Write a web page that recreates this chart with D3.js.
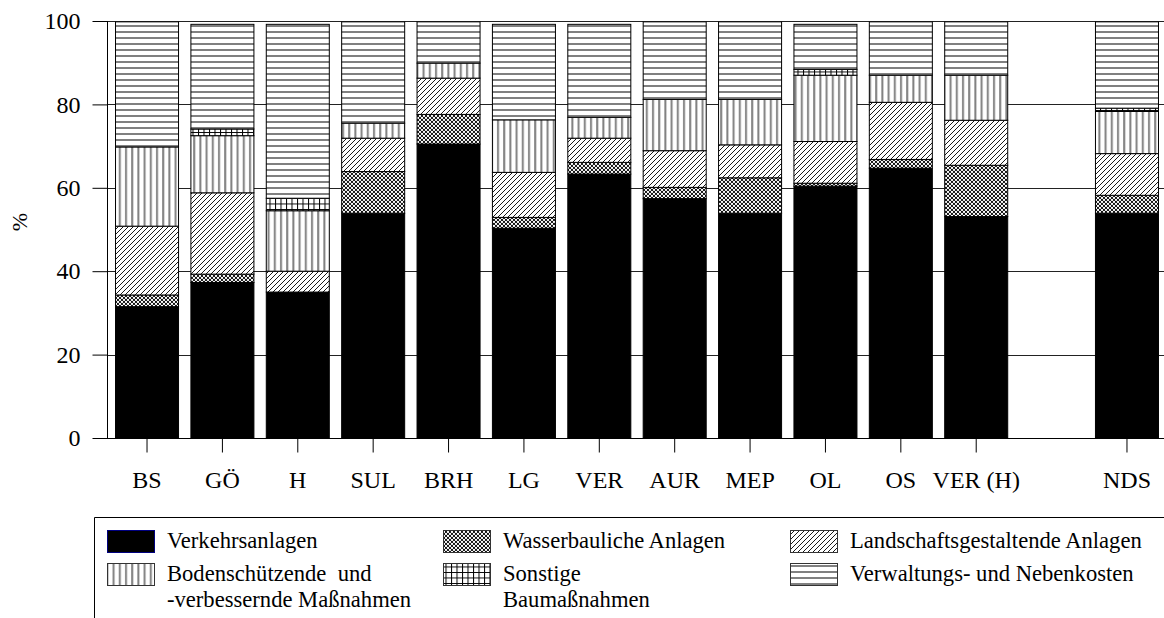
<!DOCTYPE html>
<html>
<head>
<meta charset="utf-8">
<script src="https://cdn.jsdelivr.net/npm/d3@7"></script>
<style>
  html, body { margin: 0; padding: 0; background: #fff; }
  svg { display: block; }
  text { font-family: "Liberation Serif", "Times New Roman", serif; fill: #000; }
</style>
</head>
<body>
<svg id="chart" width="1164" height="618"></svg>
<script>
// ---- data ----
const categories = ["BS", "GÖ", "H", "SUL", "BRH", "LG", "VER", "AUR", "MEP", "OL", "OS", "VER (H)", "", "NDS"];
const seriesNames = ["Verkehrsanlagen", "Wasserbauliche Anlagen", "Landschaftsgestaltende Anlagen",
                     "Bodenschützende und -verbessernde Maßnahmen", "Sonstige Baumaßnahmen", "Verwaltungs- und Nebenkosten"];
const verkehr     = [31.5, 37.3, 35.0, 53.9, 70.5, 50.3, 63.3, 57.4, 53.9, 60.4, 64.7, 53.1, 0, 53.9];
const wasser      = [ 2.8,  2.0,  0.0, 10.0,  7.1,  2.6,  2.8,  2.7,  8.5,  0.7,  2.1, 12.3, 0,  4.3];
const landschaft  = [16.5, 19.5,  5.0,  8.0,  8.7, 10.8,  5.8,  8.8,  7.9, 10.0, 13.7, 10.8, 0, 10.0];
const boden       = [19.0, 13.7, 14.5,  3.6,  3.6, 12.6,  5.0, 12.3, 10.9, 15.9,  6.5, 10.8, 0, 10.1];
const sonstige    = [ 0.0,  1.6,  3.0,  0.0,  0.0,  0.0,  0.0,  0.0,  0.0,  1.4,  0.0,  0.0, 0,  0.8];
const verwaltung  = [30.0, 25.1, 41.7, 24.3,  9.9, 22.9, 22.3, 18.6, 18.6, 10.8, 12.8, 12.8, 0, 20.7];
const yTicks = [0, 20, 40, 60, 80, 100];

const seriesKeys = ["verkehr", "wasser", "landschaft", "boden", "sonstige", "verwaltung"];
const seriesArrays = [verkehr, wasser, landschaft, boden, sonstige, verwaltung];
const table = categories.map((c, i) => {
  const row = { cat: c };
  seriesKeys.forEach((k, j) => row[k] = seriesArrays[j][i]);
  return row;
});

const svg = d3.select("#chart");
const defs = svg.append("defs");

// patterns
function pat(id, w, h) {
  const p = defs.append("pattern").attr("id", id).attr("patternUnits", "userSpaceOnUse")
    .attr("width", w).attr("height", h);
  p.append("rect").attr("width", w).attr("height", h).attr("fill", "#fff");
  return p;
}
// horizontal lines
const pH = pat("p-horiz", 6, 6);
pH.append("rect").attr("x", 0).attr("y", 1).attr("width", 6).attr("height", 2).attr("fill", "#808080");
// vertical lines
const pV = pat("p-vert", 6.2, 6);
pV.append("rect").attr("x", 1).attr("y", 0).attr("width", 2).attr("height", 6).attr("fill", "#808080");
// diagonal lines
const pD = pat("p-diag", 5, 5);
pD.append("path").attr("d", "M-1,6 L6,-1 M-1,1 L1,-1 M4,6 L6,4").attr("stroke", "#000").attr("stroke-width", 0.9);
// cross (dots lattice)
const pC = defs.append("pattern").attr("id", "p-cross").attr("patternUnits", "userSpaceOnUse")
  .attr("width", 4).attr("height", 4);
pC.append("rect").attr("width", 4).attr("height", 4).attr("fill", "#000");
[[0,0],[4,0],[0,4],[4,4],[2,2]].forEach(([cx, cy]) =>
  pC.append("circle").attr("cx", cx).attr("cy", cy).attr("r", 1.15).attr("fill", "#fff"));
// grid
const pG = pat("p-grid", 5.5, 5.5);
pG.append("path").attr("d", "M0,0.5 H5.5 M0.5,0 V5.5").attr("stroke", "#000").attr("stroke-width", 1);

const fills = ["#000", "url(#p-cross)", "url(#p-diag)", "url(#p-vert)", "url(#p-grid)", "url(#p-horiz)"];

// scales
const x = d3.scaleBand().domain(categories).range([107, 1167]).paddingInner(0.164).paddingOuter(0.113);
const y = d3.scaleLinear().domain([0, 100]).range([438, 21]);

// gridlines
svg.append("g").selectAll("line").data(yTicks.filter(t => t > 0)).join("line")
  .attr("x1", 107).attr("x2", 1164)
  .attr("y1", d => Math.round(y(d)) + 0.5).attr("y2", d => Math.round(y(d)) + 0.5)
  .attr("stroke", "#222").attr("stroke-width", 1);

// bars
const stack = d3.stack().keys(seriesKeys)(table);
svg.append("g").selectAll("g").data(stack).join("g")
  .attr("fill", (d, i) => fills[i])
  .selectAll("rect").data(d => d.filter(s => s[1] - s[0] > 0 && s.data.cat !== "")).join("rect")
  .attr("x", d => x(d.data.cat))
  .attr("width", x.bandwidth())
  .attr("y", d => y(d[1]))
  .attr("height", d => y(d[0]) - y(d[1]))
  .attr("stroke", "#000").attr("stroke-width", 1);

// y axis
const yAxis = svg.append("g").attr("transform", "translate(107.5,0)")
  .call(d3.axisLeft(y).tickValues(yTicks).tickSize(15).tickPadding(12).tickFormat(d3.format("d")));
yAxis.select(".domain").attr("d", `M0,${y(100)}V${y(0)}`);
yAxis.selectAll("text").attr("font-size", 24).attr("font-family", "Liberation Serif, Times New Roman, serif");

// x axis
const xAxis = svg.append("g").attr("transform", "translate(0,438.5)")
  .call(d3.axisBottom(x).tickValues(categories.filter(c => c !== "")).tickSize(14).tickPadding(18).tickSizeOuter(0));
xAxis.select(".domain").attr("d", "M107,0H1164");
xAxis.selectAll("text").attr("font-size", 24).attr("font-family", "Liberation Serif, Times New Roman, serif");

// y title
svg.append("text").attr("transform", "translate(27,222) rotate(-90)")
  .attr("text-anchor", "middle").attr("font-size", 22).text("%");

// legend
const lg = svg.append("g");
lg.append("path").attr("d", "M94.5,618V517.5H1164").attr("fill", "none").attr("stroke", "#000").attr("stroke-width", 1);
const legendItems = [
  { i: 0, x: 107, y: 530, lines: ["Verkehrsanlagen"] },
  { i: 1, x: 443, y: 530, lines: ["Wasserbauliche Anlagen"] },
  { i: 2, x: 790, y: 530, lines: ["Landschaftsgestaltende Anlagen"] },
  { i: 3, x: 107, y: 563, lines: ["Bodenschützende\u00a0 und", "-verbessernde Maßnahmen"] },
  { i: 4, x: 443, y: 563, lines: ["Sonstige", "Baumaßnahmen"] },
  { i: 5, x: 790, y: 563, lines: ["Verwaltungs- und Nebenkosten"] }
];
legendItems.forEach(it => {
  lg.append("rect").attr("x", it.x + 0.5).attr("y", it.y + 0.5).attr("width", 47).attr("height", 22)
    .attr("fill", fills[it.i]).attr("stroke", it.i === 0 ? "#000080" : "#333").attr("stroke-width", 1);
  const t = lg.append("text").attr("x", it.x + 60).attr("y", it.y + 18).attr("font-size", 22.6);
  it.lines.forEach((ln, k) => t.append("tspan").attr("x", it.x + 60).attr("dy", k === 0 ? 0 : 25.7).text(ln));
});
</script>
</body>
</html>
